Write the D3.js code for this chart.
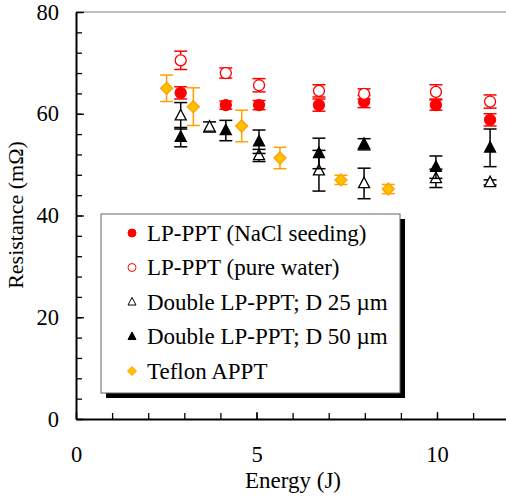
<!DOCTYPE html>
<html>
<head>
<meta charset="utf-8">
<script src="https://cdn.jsdelivr.net/npm/d3@7"></script>
<style>
  text { font-family: "Liberation Serif", "Times New Roman", Tinos, serif; }
</style>
</head>
<body style="margin:0">
<svg id="chart" width="506" height="499"></svg>
<script>
// energy (J), resistance (mOhm), error (mOhm)
const naclEnergy = [2.9, 4.15, 5.07, 6.73, 7.98, 9.97, 11.47];
const naclRes = [64.1, 61.7, 61.7, 61.7, 62.4, 61.7, 58.8];
const naclErr = [1.2, 0.8, 0.9, 1.2, 1.2, 1.0, 1.2];

const waterEnergy = [2.9, 4.15, 5.07, 6.73, 7.98, 9.97, 11.47];
const waterRes = [70.5, 68.0, 65.6, 64.5, 63.9, 64.3, 62.4];
const waterErr = [1.8, 1.0, 1.3, 1.2, 1.0, 1.4, 1.3];

const d25Energy = [2.9, 3.7, 5.07, 6.73, 7.98, 9.97, 11.47];
const d25Res = [59.6, 57.4, 51.8, 48.8, 46.3, 47.3, 46.5];
const d25Err = [2.6, 1.0, 1.2, 4.0, 3.0, 1.8, 0.5];

const d50Energy = [2.9, 4.15, 5.07, 6.73, 7.98, 9.97, 11.47];
const d50Res = [55.4, 56.7, 54.5, 52.2, 54.0, 49.5, 53.3];
const d50Err = [1.9, 2.0, 2.3, 3.0, 1.1, 2.2, 3.7];

const teflonEnergy = [2.51, 3.25, 4.59, 5.65, 7.34, 8.65];
const teflonRes = [65.0, 61.4, 57.6, 51.3, 47.0, 45.2];
const teflonErr = [2.6, 3.7, 3.1, 2.1, 0.9, 0.9];

const legendLabels = [
  'LP-PPT (NaCl seeding)',
  'LP-PPT (pure water)',
  'Double LP-PPT; D 25 \u00b5m',
  'Double LP-PPT; D 50 \u00b5m',
  'Teflon APPT'
];

const fontName = 'Liberation Serif';
const setFont = (sel, size) => sel
  .attr('font-size', size)
  .style('font-family', `"${fontName}"`);

const margin = { left: 76, top: 12, right: 0, bottom: 80 };
const width = 506 - margin.left - margin.right;
const height = 499 - margin.top - margin.bottom;

const x = d3.scaleLinear().domain([0, width / 36.1]).range([0, width]);
const y = d3.scaleLinear().domain([0, 80]).range([height, 0]);

const zip = (es, rs, errs) => es.map((e, i) => ({ e, r: rs[i], err: errs[i] }));

const series = [
  { name: legendLabels[0], data: zip(naclEnergy, naclRes, naclErr), shape: 'circle', fill: '#ff0000', stroke: '#ff0000', bar: '#ff0000' },
  { name: legendLabels[1], data: zip(waterEnergy, waterRes, waterErr), shape: 'circle', fill: '#fff', stroke: '#ff0000', bar: '#ff0000' },
  { name: legendLabels[2], data: zip(d25Energy, d25Res, d25Err), shape: 'triangle', fill: '#fff', stroke: '#000', bar: '#000' },
  { name: legendLabels[3], data: zip(d50Energy, d50Res, d50Err), shape: 'triangle', fill: '#000', stroke: '#000', bar: '#000' },
  { name: legendLabels[4], data: zip(teflonEnergy, teflonRes, teflonErr), shape: 'diamond', fill: '#ffc000', stroke: '#ffa000', bar: '#ffa000' }
];

const svg = d3.select('#chart');
const g = svg.append('g').attr('transform', `translate(${margin.left},${margin.top})`);

// top frame line
g.append('line')
  .attr('x1', 0).attr('x2', width)
  .attr('y1', 0).attr('y2', 0)
  .attr('stroke', '#808080').attr('stroke-width', 1);

// minor ticks
g.append('g')
  .attr('class', 'y-minor')
  .call(d3.axisLeft(y).tickValues(d3.range(0, 81, 4)).tickSize(-6).tickFormat(''))
  .call(a => a.select('.domain').remove());

g.append('g')
  .attr('class', 'x-minor')
  .attr('transform', `translate(0,${height})`)
  .call(d3.axisBottom(x).tickValues(d3.range(0, 12, 1)).tickSize(-6).tickFormat(''))
  .call(a => a.select('.domain').remove());

// major axes
g.append('g')
  .attr('class', 'y-axis')
  .call(d3.axisLeft(y).tickValues([0, 20, 40, 60, 80]).tickSize(-8).tickSizeOuter(0).tickPadding(17));

g.append('g')
  .attr('class', 'x-axis')
  .attr('transform', `translate(0,${height})`)
  .call(d3.axisBottom(x).tickValues([0, 5, 10]).tickSize(-7).tickSizeOuter(0).tickPadding(27));

g.selectAll('.y-axis, .x-axis').attr('font-family', null);
g.selectAll('.tick line').attr('stroke', '#000').attr('stroke-width', 1.3);
g.selectAll('.domain').attr('stroke', '#000').attr('stroke-width', 2);
g.selectAll('.y-axis text, .x-axis text')
  .call(setFont, 22.5)
  .attr('fill', '#000');

// axis titles
g.append('text')
  .attr('transform', 'rotate(-90)')
  .attr('x', -(215 - margin.top))
  .attr('y', -53)
  .attr('text-anchor', 'middle')
  .call(setFont, 22)
  .text('Resistance (m\u03a9)');

g.append('text')
  .attr('x', 293 - margin.left)
  .attr('y', 488 - margin.top)
  .attr('text-anchor', 'middle')
  .call(setFont, 23)
  .text('Energy (J)');

const drawMarker = (sel, shape, size) => {
  if (shape === 'circle') {
    sel.append('circle').attr('r', size / 2);
  } else if (shape === 'triangle') {
    const h = size * 0.95;
    sel.append('path').attr('d', `M0,${-h * 0.6}L${size / 2},${h * 0.4}L${-size / 2},${h * 0.4}Z`);
  } else {
    const s = size / 2 + 0.5;
    sel.append('path').attr('d', `M0,${-s}L${s},0L0,${s}L${-s},0Z`);
  }
};

// error bars and markers
series.forEach(s => {
  const sg = g.append('g').attr('class', 'series');
  const bars = sg.selectAll('g.err').data(s.data).enter().append('g')
    .attr('class', 'err')
    .attr('stroke', s.bar).attr('stroke-width', 1.5);
  bars.append('line')
    .attr('x1', d => x(d.e)).attr('x2', d => x(d.e))
    .attr('y1', d => y(d.r - d.err)).attr('y2', d => y(d.r + d.err));
  [-1, 1].forEach(sign => {
    bars.append('line')
      .attr('x1', d => x(d.e) - 6.5).attr('x2', d => x(d.e) + 6.5)
      .attr('y1', d => y(d.r + sign * d.err)).attr('y2', d => y(d.r + sign * d.err));
  });
  const marks = sg.selectAll('g.mark').data(s.data).enter().append('g')
    .attr('class', 'mark')
    .attr('transform', d => `translate(${x(d.e)},${y(d.r)})`)
    .attr('fill', s.fill).attr('stroke', s.stroke).attr('stroke-width', 1.3);
  marks.each(function () { drawMarker(d3.select(this), s.shape, 11); });
});

// legend
const lg = svg.append('g').attr('transform', 'translate(101,214)');
const lw = 299, lh = 179;
lg.append('rect').attr('x', 5).attr('y', 5).attr('width', lw).attr('height', lh).attr('fill', '#000');
lg.append('rect').attr('x', 0).attr('y', 0).attr('width', lw).attr('height', lh)
  .attr('fill', '#fff').attr('stroke', '#666').attr('stroke-width', 1);

series.forEach((s, i) => {
  const row = lg.append('g').attr('transform', `translate(0,${19 + i * 34.5})`);
  const m = row.append('g')
    .attr('transform', 'translate(31,0)')
    .attr('fill', s.fill).attr('stroke', s.stroke).attr('stroke-width', 1);
  drawMarker(m, s.shape, 8);
  row.append('text')
    .attr('x', 46).attr('y', 7.5)
    .call(setFont, 23)
    .text(s.name);
});
</script>
</body>
</html>
